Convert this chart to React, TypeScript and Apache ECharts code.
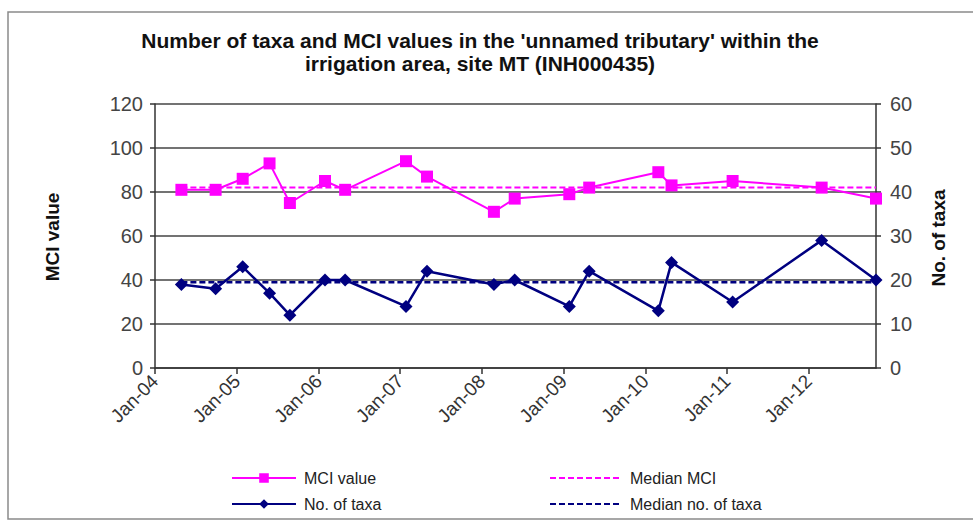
import React, { useEffect, useRef } from "react";
import * as echarts from "echarts";

const sampleDates = [
  "2004-04-28", "2004-09-28", "2005-01-27", "2005-05-27", "2005-08-26",
  "2006-01-30", "2006-04-30", "2007-01-27", "2007-05-01", "2008-02-24",
  "2008-05-27", "2009-01-26", "2009-04-25", "2010-02-28", "2010-04-28",
  "2011-01-26", "2012-02-28", "2012-10-28",
];
const mciValues = [81, 81, 86, 93, 75, 85, 81, 94, 87, 71, 77, 79, 82, 89, 83, 85, 82, 77];
const taxaValues = [19, 18, 23, 17, 12, 20, 20, 14, 22, 19, 20, 14, 22, 13, 24, 15, 29, 20];
const medianMCI = 82;
const medianTaxa = 19.5;
const monthNames = ["Jan", "Feb", "Mar", "Apr", "May", "Jun", "Jul", "Aug", "Sep", "Oct", "Nov", "Dec"];
const titleLines = [
  "Number of taxa and MCI values in the 'unnamed tributary' within the",
  "irrigation area, site MT (INH000435)",
];

const FONT = "'Liberation Sans', Arial, sans-serif";

function legendItem(name: string, left: number, top: number, width: number, hideSymbol: boolean) {
  return {
    orient: "horizontal",
    left,
    top,
    itemWidth: width,
    itemHeight: 12,
    padding: 0,
    data: [hideSymbol ? { name, itemStyle: { opacity: 0 } } : { name }],
    textStyle: { fontSize: 16, color: "#222", fontFamily: FONT, padding: [0, 0, 0, 3] },
  };
}

export default function App() {
  const ref = useRef<HTMLDivElement>(null);
  useEffect(() => {
    if (!ref.current) return;
    const chart = echarts.init(ref.current, null, { renderer: "svg" });
    const first = sampleDates[0];
    const last = sampleDates[sampleDates.length - 1];
    const year = 365 * 24 * 3600 * 1000;
    chart.setOption({
      animation: false,
      backgroundColor: "#ffffff",
      textStyle: { fontFamily: FONT },
      grid: { left: 155, right: 97, top: 104, bottom: 153 },
      xAxis: {
        type: "time",
        min: "2004-01-01",
        max: last,
        minInterval: year,
        maxInterval: year + 2 * 24 * 3600 * 1000,
        axisLine: { lineStyle: { color: "#333", width: 1.5 } },
        axisTick: { show: true, length: 6, lineStyle: { color: "#333", width: 1.5 } },
        splitLine: { show: false },
        axisLabel: {
          rotate: 45,
          fontSize: 19,
          color: "#333",
          fontFamily: FONT,
          margin: 10,
          showMaxLabel: false,
          formatter: (v: number) => {
            const d = new Date(v);
            if (d.getMonth() !== 0 || d.getDate() !== 1) return "";
            return monthNames[d.getMonth()] + "-" + String(d.getFullYear()).slice(2);
          },
        },
      },
      yAxis: [
        {
          type: "value",
          min: 0,
          max: 120,
          interval: 20,
          position: "left",
          axisLine: { show: true, lineStyle: { color: "#333", width: 1.5 } },
          axisTick: { show: true, length: 5, lineStyle: { color: "#333", width: 1.5 } },
          splitLine: { show: true, lineStyle: { color: "#444", width: 1.5 } },
          axisLabel: { fontSize: 20, color: "#444", margin: 12, fontFamily: FONT },
        },
        {
          type: "value",
          min: 0,
          max: 60,
          interval: 10,
          position: "right",
          axisLine: { show: true, lineStyle: { color: "#333", width: 1.5 } },
          axisTick: { show: true, length: 5, lineStyle: { color: "#333", width: 1.5 } },
          splitLine: { show: false },
          axisLabel: { fontSize: 20, color: "#444", margin: 14, fontFamily: FONT },
        },
      ],
      legend: [
        legendItem("MCI value", 231, 470, 64, false),
        legendItem("No. of taxa", 231, 496, 64, false),
        legendItem("Median MCI", 549, 470, 72, true),
        legendItem("Median no. of taxa", 549, 496, 72, true),
      ],
      series: [
        {
          name: "Median MCI",
          type: "line",
          yAxisIndex: 0,
          symbol: "none",
          data: [[first, medianMCI], [last, medianMCI]],
          lineStyle: { color: "#ff00ff", width: 2, type: [6, 3] },
          itemStyle: { color: "#ff00ff" },
          z: 2,
        },
        {
          name: "Median no. of taxa",
          type: "line",
          yAxisIndex: 1,
          symbol: "none",
          data: [[first, medianTaxa], [last, medianTaxa]],
          lineStyle: { color: "#000080", width: 2.5, type: [6, 3] },
          itemStyle: { color: "#000080" },
          z: 2,
        },
        {
          name: "MCI value",
          type: "line",
          yAxisIndex: 0,
          symbol: "rect",
          symbolSize: 12,
          data: sampleDates.map((d, i) => [d, mciValues[i]]),
          lineStyle: { color: "#ff00ff", width: 2 },
          itemStyle: { color: "#ff00ff" },
          z: 3,
        },
        {
          name: "No. of taxa",
          type: "line",
          yAxisIndex: 1,
          symbol: "diamond",
          symbolSize: 13,
          data: sampleDates.map((d, i) => [d, taxaValues[i]]),
          lineStyle: { color: "#000080", width: 2.5 },
          itemStyle: { color: "#000080" },
          z: 4,
        },
      ],
      graphic: [
        {
          type: "rect",
          shape: { x: 8, y: 12, width: 1000, height: 507 },
          style: { fill: "none", stroke: "#8a8a8a", lineWidth: 1.5 },
          silent: true,
        },
        {
          type: "text",
          x: 480,
          y: 40,
          style: { text: titleLines[0], font: `bold 21px ${FONT}`, fill: "#111", align: "center", verticalAlign: "middle" },
        },
        {
          type: "text",
          x: 480,
          y: 63,
          style: { text: titleLines[1], font: `bold 21px ${FONT}`, fill: "#111", align: "center", verticalAlign: "middle" },
        },
        {
          type: "text",
          x: 52,
          y: 237,
          rotation: Math.PI / 2,
          style: { text: "MCI value", font: `bold 19px ${FONT}`, fill: "#111", align: "center", verticalAlign: "middle" },
        },
        {
          type: "text",
          x: 938,
          y: 238,
          rotation: Math.PI / 2,
          style: { text: "No. of taxa", font: `bold 19px ${FONT}`, fill: "#111", align: "center", verticalAlign: "middle" },
        },
      ],
    });
    return () => chart.dispose();
  }, []);
  return (
    <div
      ref={ref}
      style={{ position: "fixed", left: 0, top: 0, width: 973, height: 521 }}
    />
  );
}
